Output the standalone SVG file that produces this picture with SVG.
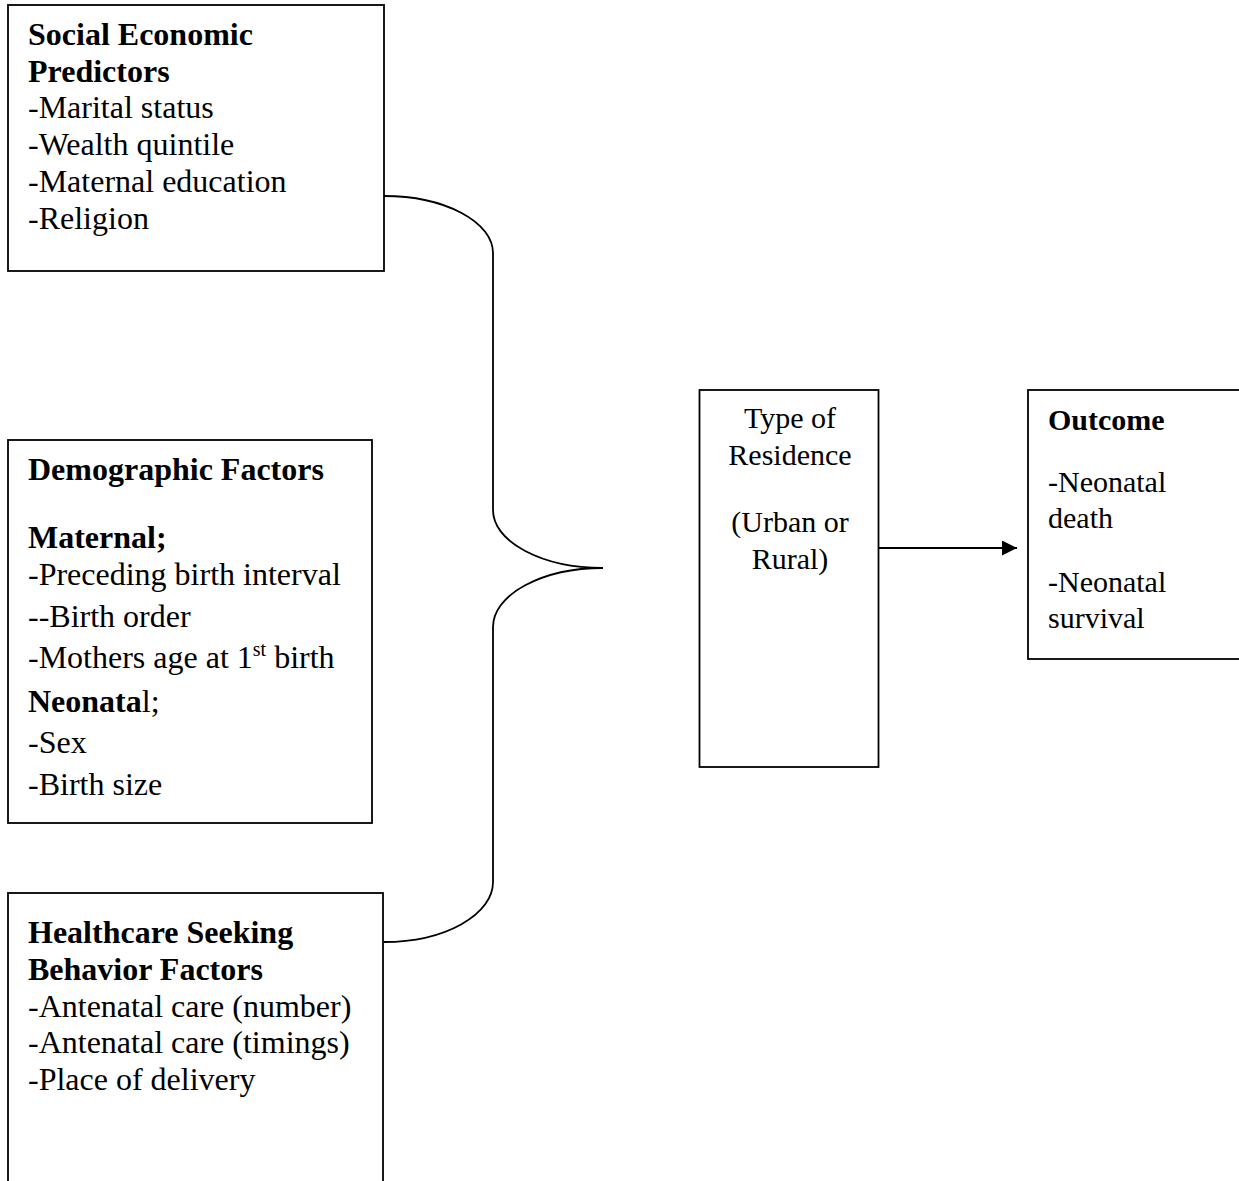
<svg xmlns="http://www.w3.org/2000/svg" width="1239" height="1181" viewBox="0 0 1239 1181">
<defs>
<style>
.box{fill:#fff;stroke:#000;stroke-width:1.8}
.t{font-family:"Liberation Serif","Times New Roman",serif;font-size:32px;fill:#000}
.m{font-size:30px}
.b{font-weight:bold}
.conn{fill:none;stroke:#000;stroke-width:1.8}
</style>
<marker id="ah" markerWidth="15" markerHeight="15" refX="15" refY="7.5" orient="auto" markerUnits="userSpaceOnUse">
<path d="M0,0 L15,7.5 L0,15 Z" fill="#000"/>
</marker>
</defs>
<rect width="1239" height="1181" fill="#fff"/>

<g id="connectors">
<path class="conn" d="M384,196 A109,57 0 0 1 493,253 L493,510 A110,58 0 0 0 603,568 A110,59 0 0 0 493,627 L493,882 A109,60 0 0 1 384,942"/>
<path class="conn" d="M879,548 L1017,548" marker-end="url(#ah)"/>
</g>

<g id="social-economic">
<rect class="box" x="8" y="5" width="376" height="266"/>
<text class="t b" x="28" y="45">Social Economic</text>
<text class="t b" x="28" y="82">Predictors</text>
<text class="t" x="28" y="118">-Marital status</text>
<text class="t" x="28" y="155">-Wealth quintile</text>
<text class="t" x="28" y="192">-Maternal education</text>
<text class="t" x="28" y="229">-Religion</text>
</g>

<g id="demographic">
<rect class="box" x="8" y="440" width="364" height="383"/>
<text class="t b" x="28" y="480">Demographic Factors</text>
<text class="t b" x="28" y="548">Maternal;</text>
<text class="t" x="28" y="585">-Preceding birth interval</text>
<text class="t" x="28" y="627">--Birth order</text>
<text class="t" x="28" y="668">-Mothers age at 1<tspan font-size="20" dy="-12">st</tspan><tspan dy="12"> birth</tspan></text>
<text class="t" x="28" y="712"><tspan class="b">Neonata</tspan>l;</text>
<text class="t" x="28" y="753">-Sex</text>
<text class="t" x="28" y="795">-Birth size</text>
</g>

<g id="healthcare">
<rect class="box" x="8" y="893" width="375" height="320"/>
<text class="t b" x="28" y="943">Healthcare Seeking</text>
<text class="t b" x="28" y="980">Behavior Factors</text>
<text class="t" x="28" y="1017">-Antenatal care (number)</text>
<text class="t" x="28" y="1053">-Antenatal care (timings)</text>
<text class="t" x="28" y="1090">-Place of delivery</text>
</g>

<g id="residence">
<rect class="box" x="699.5" y="390" width="179" height="377"/>
<text class="t m" x="790" y="428" text-anchor="middle">Type of</text>
<text class="t m" x="790" y="465" text-anchor="middle">Residence</text>
<text class="t m" x="790" y="532" text-anchor="middle">(Urban or</text>
<text class="t m" x="790" y="569" text-anchor="middle">Rural)</text>
</g>

<g id="outcome">
<rect class="box" x="1028" y="390" width="240" height="269"/>
<text class="t m b" x="1048" y="430">Outcome</text>
<text class="t m" x="1048" y="492">-Neonatal</text>
<text class="t m" x="1048" y="528">death</text>
<text class="t m" x="1048" y="592">-Neonatal</text>
<text class="t m" x="1048" y="628">survival</text>
</g>
</svg>
